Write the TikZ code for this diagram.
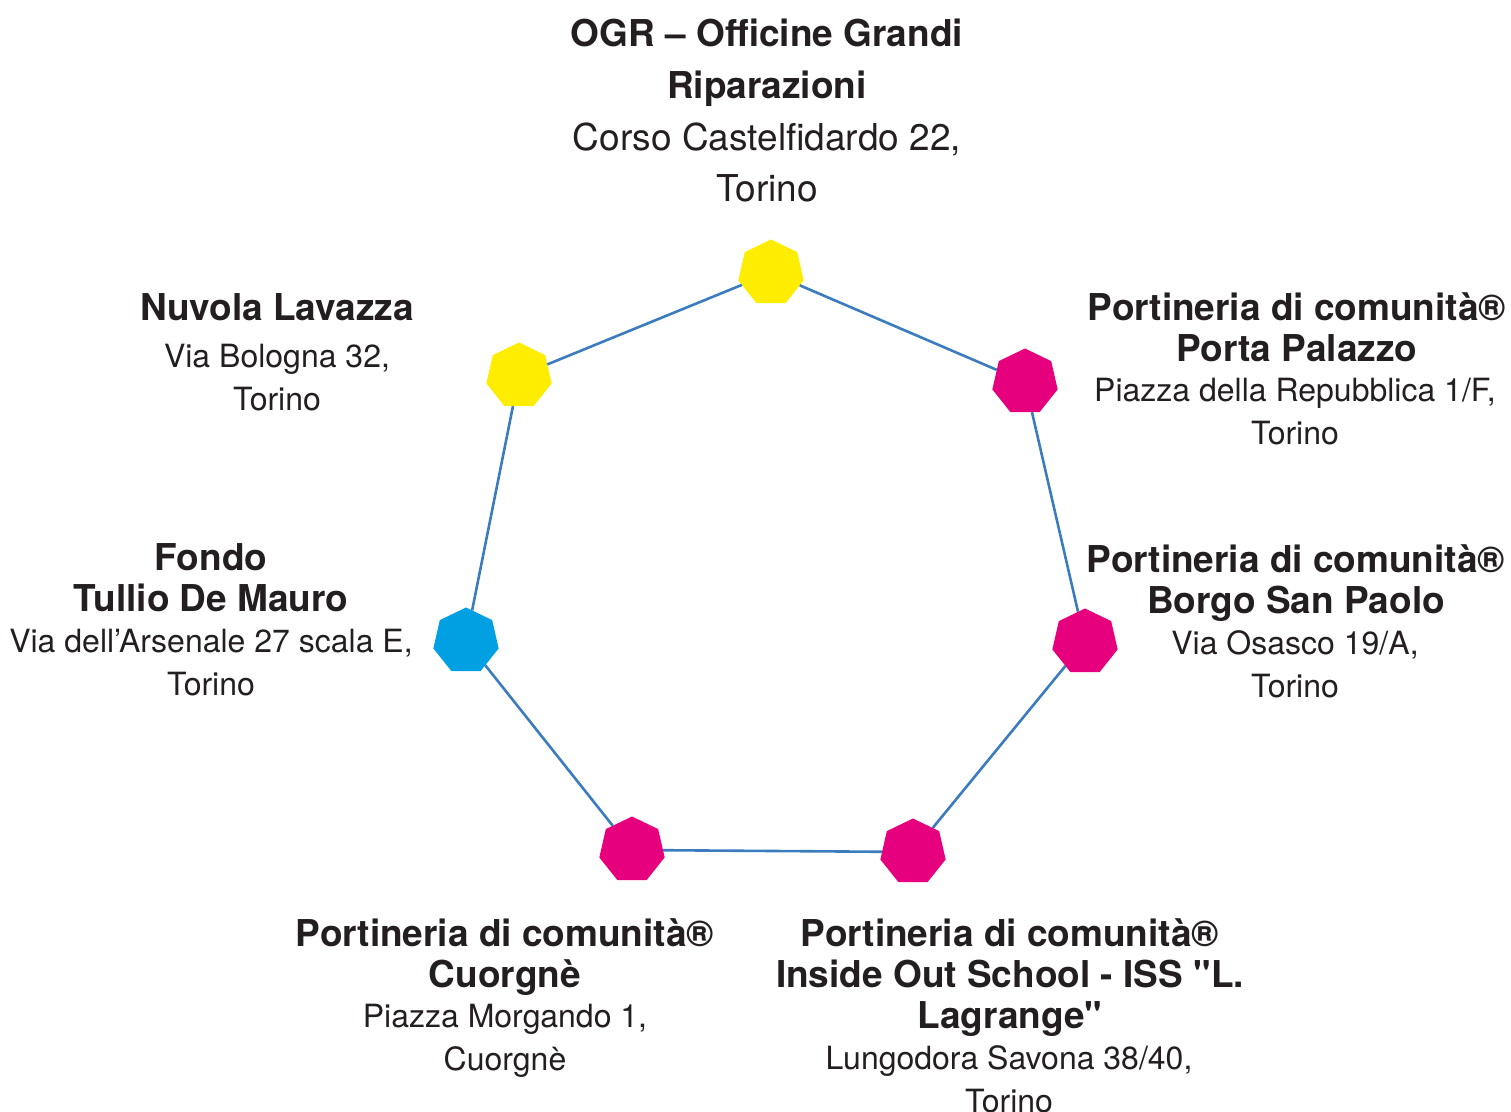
\documentclass[tikz,border=0pt]{standalone}
\usepackage{fontspec}
\setmainfont{TeX Gyre Heros}[Ligatures=TeXOff]
\usetikzlibrary{positioning, shapes.geometric}
\definecolor{hubyellow}{RGB}{255,237,0}
\definecolor{hubmagenta}{RGB}{230,0,126}
\definecolor{hubcyan}{RGB}{0,160,227}
\definecolor{linkblue}{RGB}{58,124,190}
\definecolor{inkgray}{RGB}{35,31,32}

\begin{document}
\begin{tikzpicture}[
    x=0.5pt, y=-0.5pt,
    hub/.style={regular polygon, regular polygon sides=7, minimum size=33.5pt, inner sep=0pt, outer sep=0pt},
    head/.style={anchor=north, align=center, inner sep=0pt, text=inkgray, font=\bfseries\fontsize{18.5}{20.5}\selectfont},
    addr/.style={anchor=north, align=center, inner sep=0pt, text=inkgray, font=\fontsize{16}{21.5}\selectfont},
    link/.style={draw=linkblue, line width=1.3pt}
]
\useasboundingbox (0,0) rectangle (1511,1112);

% Sedi
\node[hub, fill=hubyellow] (ogr) at (771,273) {};
\node[hub, fill=hubyellow] (nuvola) at (519,376) {};
\node[hub, fill=hubmagenta] (porta) at (1025,382) {};
\node[hub, fill=hubcyan] (fondo) at (466,641) {};
\node[hub, fill=hubmagenta] (borgo) at (1085,642) {};
\node[hub, fill=hubmagenta] (cuorgne) at (632,850) {};
\node[hub, fill=hubmagenta] (inside) at (913,852) {};

% Collegamenti
\draw[link] (ogr) -- (porta);
\draw[link] (porta) -- (borgo);
\draw[link] (borgo) -- (inside);
\draw[link] (inside) -- (cuorgne);
\draw[link] (cuorgne) -- (fondo);
\draw[link] (fondo) -- (nuvola);
\draw[link] (nuvola) -- (ogr);

% Etichette
\node[head, font=\bfseries\fontsize{18.5}{26}\selectfont] (ogrT) at (767,19) {OGR – Officine Grandi\\Riparazioni};
\node[addr, font=\fontsize{18.5}{25.5}\selectfont] (ogrA) at (767,122) {Corso Castelfidardo 22,\\Torino};

\node[head] (nuvolaT) at (277,293) {Nuvola Lavazza};
\node[addr] (nuvolaA) at (277,344) {Via Bologna 32,\\Torino};

\node[head] (portaT) at (1297,292) {Portineria di comunità®\\Porta Palazzo};
\node[addr] (portaA) at (1295,378) {Piazza della Repubblica 1/F,\\Torino};

\node[head] (fondoT) at (211,543) {Fondo\\Tullio De Mauro};
\node[addr] (fondoA) at (211,629) {Via dell’Arsenale 27 scala E,\\Torino};

\node[head] (borgoT) at (1296,544) {Portineria di comunità®\\Borgo San Paolo};
\node[addr] (borgoA) at (1295,630) {Via Osasco 19/A,\\Torino};

\node[head] (cuorgneT) at (505,918) {Portineria di comunità®\\Cuorgnè};
\node[addr] (cuorgneA) at (505,1004) {Piazza Morgando 1,\\Cuorgnè};

\node[head] (insideT) at (1010,918) {Portineria di comunità®\\Inside Out School - ISS "L.\\Lagrange"};
\node[addr] (insideA) at (1009,1045) {Lungodora Savona 38/40,\\Torino};

\end{tikzpicture}
\end{document}
